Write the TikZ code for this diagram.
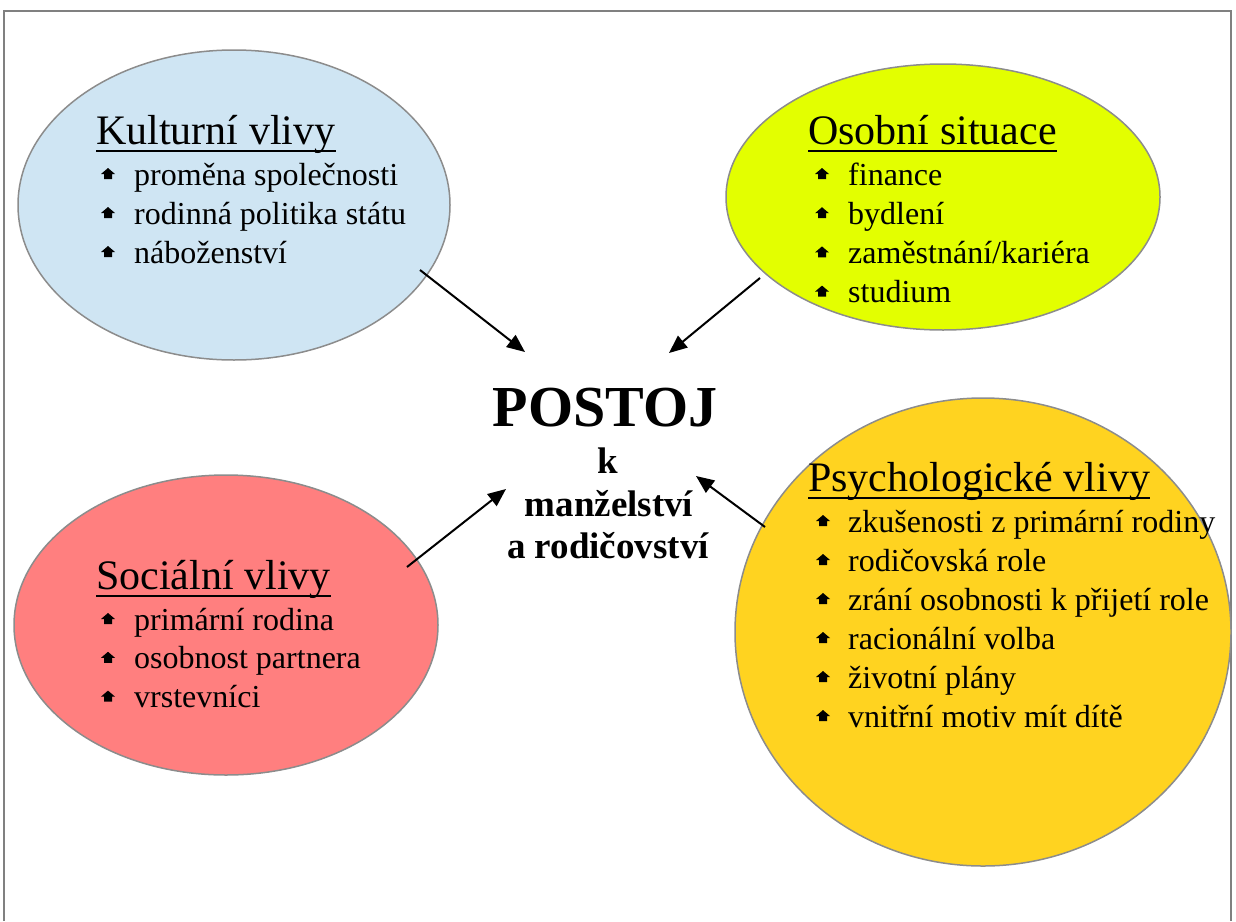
\documentclass[tikz,border=0pt]{standalone}
\usepackage{fontspec}
\setmainfont{Liberation Serif}
\usetikzlibrary{shapes.geometric,arrows.meta}
\definecolor{kultc}{HTML}{CFE5F3}
\definecolor{osobc}{HTML}{E3FF00}
\definecolor{socc}{HTML}{FF7F7F}
\definecolor{psyc}{HTML}{FFD320}
\definecolor{edgegray}{HTML}{8C8C8C}
\definecolor{framegray}{HTML}{808080}
\tikzset{
  bubble/.style={ellipse, draw=edgegray, line width=1.5pt, inner sep=0pt},
  headtext/.style={anchor=base west, inner sep=0pt, font=\fontsize{42}{50}\selectfont},
  itemtext/.style={anchor=base west, inner sep=0pt, font=\fontsize{32}{38}\selectfont},
  centertext/.style={anchor=base, inner sep=0pt, font=\fontsize{37}{42}\selectfont\bfseries},
  conn/.style={line width=2pt, -{Triangle[length=18pt,width=15pt]}},
}
% bullet: #1,#2 = x centre and top of the bullet
\newcommand{\bulletat}[2]{\fill (#1,#2) -- ++(7,6) -- ++(-3,0) -- ++(0,5) -- ++(-8,0) -- ++(0,-5) -- ++(-3,0) -- cycle;}
\begin{document}
\begin{tikzpicture}[x=1pt,y=-1pt]
\useasboundingbox (0,0) rectangle (1236,921);
% frame
\draw[framegray, line width=2pt] (4,921) -- (4,11) -- (1231,11) -- (1231,921);

% ellipses
\node[bubble, fill=kultc, minimum width=432pt, minimum height=310pt] (kult) at (234,205) {};
\node[bubble, fill=osobc, minimum width=434pt, minimum height=266pt] (osob) at (943,197) {};
\node[bubble, fill=socc, minimum width=424pt, minimum height=300pt] (soc) at (226,625) {};
\node[bubble, fill=psyc, minimum width=496pt, minimum height=468pt] (psy) at (983,632) {};

% headings
\node[headtext] (kulth) at (96,144) {Kulturní vlivy};
\draw[line width=2pt] ([yshift=-7pt]kulth.base west) -- ([yshift=-7pt]kulth.base east);
\node[headtext] (osobh) at (808,144) {Osobní situace};
\draw[line width=2pt] ([yshift=-7pt]osobh.base west) -- ([yshift=-7pt]osobh.base east);
\node[headtext] (soch) at (96,589) {Sociální vlivy};
\draw[line width=2pt] ([yshift=-7pt]soch.base west) -- ([yshift=-7pt]soch.base east);
\node[headtext] (psyh) at (808,491) {Psychologické vlivy};
\draw[line width=2pt] ([yshift=-7pt]psyh.base west) -- ([yshift=-7pt]psyh.base east);

% items
\foreach \t [count=\i from 0] in {proměna společnosti, rodinná politika státu, náboženství}{
  \node[itemtext] (kulti\i) at (134,{185+39*\i}) {\t};
  \bulletat{108}{168+39*\i}
}
\foreach \t [count=\i from 0] in {finance, bydlení, zaměstnání/kariéra, studium}{
  \node[itemtext] (osobi\i) at (848,{185+39.2*\i}) {\t};
  \bulletat{822}{168+39.2*\i}
}
\foreach \t [count=\i from 0] in {primární rodina, osobnost partnera, vrstevníci}{
  \node[itemtext] (soci\i) at (134,{630+38.8*\i}) {\t};
  \bulletat{108}{613+38.8*\i}
}
\foreach \t [count=\i from 0] in {zkušenosti z primární rodiny, rodičovská role, zrání osobnosti k přijetí role, racionální volba, životní plány, vnitřní motiv mít dítě}{
  \node[itemtext] (psyi\i) at (848,{532+39*\i}) {\t};
  \bulletat{823}{515+39*\i}
}

% center
\node[anchor=base, inner sep=0pt, font=\fontsize{58}{66}\selectfont\bfseries] (postoj) at (605,426) {POSTOJ};
\node[centertext] (c1) at (608,473) {k};
\node[centertext] (c2) at (609,516) {manželství};
\node[centertext] (c3) at (608,558) {a rodičovství};

% connectors
\coordinate (ka) at (420,270); \coordinate (kb) at (525,352);
\coordinate (oa) at (760,278); \coordinate (ob) at (669,353);
\coordinate (sa) at (407,567); \coordinate (sb) at (506,489);
\coordinate (pa) at (765,527); \coordinate (pb) at (696,476);
\draw[conn] (ka) -- (kb);
\draw[conn] (oa) -- (ob);
\draw[conn] (sa) -- (sb);
\draw[conn] (pa) -- (pb);
\end{tikzpicture}
\end{document}
